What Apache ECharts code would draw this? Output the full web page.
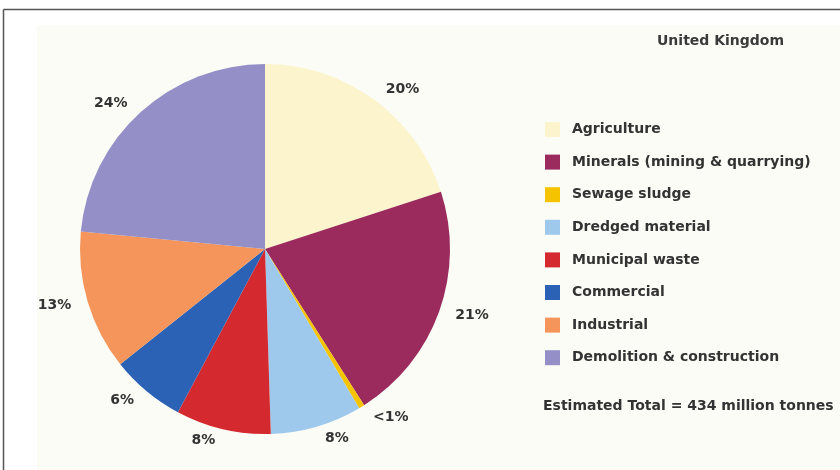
<!DOCTYPE html>
<html>
<head>
<meta charset="utf-8">
<script src="https://cdn.jsdelivr.net/npm/echarts@6/dist/echarts.min.js"></script>
<style>
html,body{margin:0;padding:0;background:#fff;}
#c{width:840px;height:470px;}
</style>
</head>
<body>
<div id="c"></div>
<script>
var categories = ['Agriculture','Minerals (mining & quarrying)','Sewage sludge','Dredged material','Municipal waste','Commercial','Industrial','Demolition & construction'];
var values = [20, 21, 0.5, 8, 8.3, 6.5, 12.2, 23.5];
var pctLabels = ['20%','21%','<1%','8%','8%','6%','13%','24%'];
var colors = ['#fbf4cc','#9b2b5d','#f6c300','#9fc9ec','#d42a2f','#2b62b6','#f5955b','#9490c7'];
var titleText = 'United Kingdom';
var noteText = 'Estimated Total = 434 million tonnes';

var font = 'DejaVu Sans';
var chart = echarts.init(document.getElementById('c'));
chart.setOption({
  animation: false,
  backgroundColor: '#ffffff',
  color: colors,
  graphic: [
    {type:'rect', shape:{x:37,y:25,width:803,height:445}, style:{fill:'#fbfcf6'}, silent:true, z:-10},
    {type:'line', shape:{x1:3.5,y1:9.5,x2:840,y2:9.5}, style:{stroke:'#555',lineWidth:1.5}, silent:true},
    {type:'line', shape:{x1:3.5,y1:9.5,x2:3.5,y2:470}, style:{stroke:'#555',lineWidth:1.5}, silent:true},
    {type:'text', left:543, top:399, style:{text:noteText, font:'bold 14px "DejaVu Sans"', fill:'#333'}}
  ],
  title: {
    text: titleText, left: 652, top: 29,
    textStyle: {fontFamily: font, fontSize: 14, fontWeight: 'bold', color: '#3a3a3a'}
  },
  legend: {
    orient: 'vertical', left: 540, top: 117,
    itemWidth: 15, itemHeight: 15, itemGap: 17.6,
    icon: 'rect',
    data: categories,
    textStyle: {fontFamily: font, fontSize: 14, fontWeight: 'bold', color: '#333', padding: [0,0,0,7]}
  },
  series: [{
    type: 'pie',
    center: [265, 249],
    radius: 185,
    startAngle: 90,
    clockwise: true,
    avoidLabelOverlap: false,
    silent: true,
    data: categories.map(function(n, i){ return {name: n, value: values[i]}; }),
    label: {
      show: true, position: 'outside', alignTo: 'none',
      formatter: function(p){ return pctLabels[p.dataIndex]; },
      fontFamily: font, fontSize: 14, fontWeight: 'bold', color: '#333'
    },
    labelLine: {show: false, length: 12, length2: 0},
    itemStyle: {borderWidth: 0}
  }]
});
</script>
</body>
</html>
